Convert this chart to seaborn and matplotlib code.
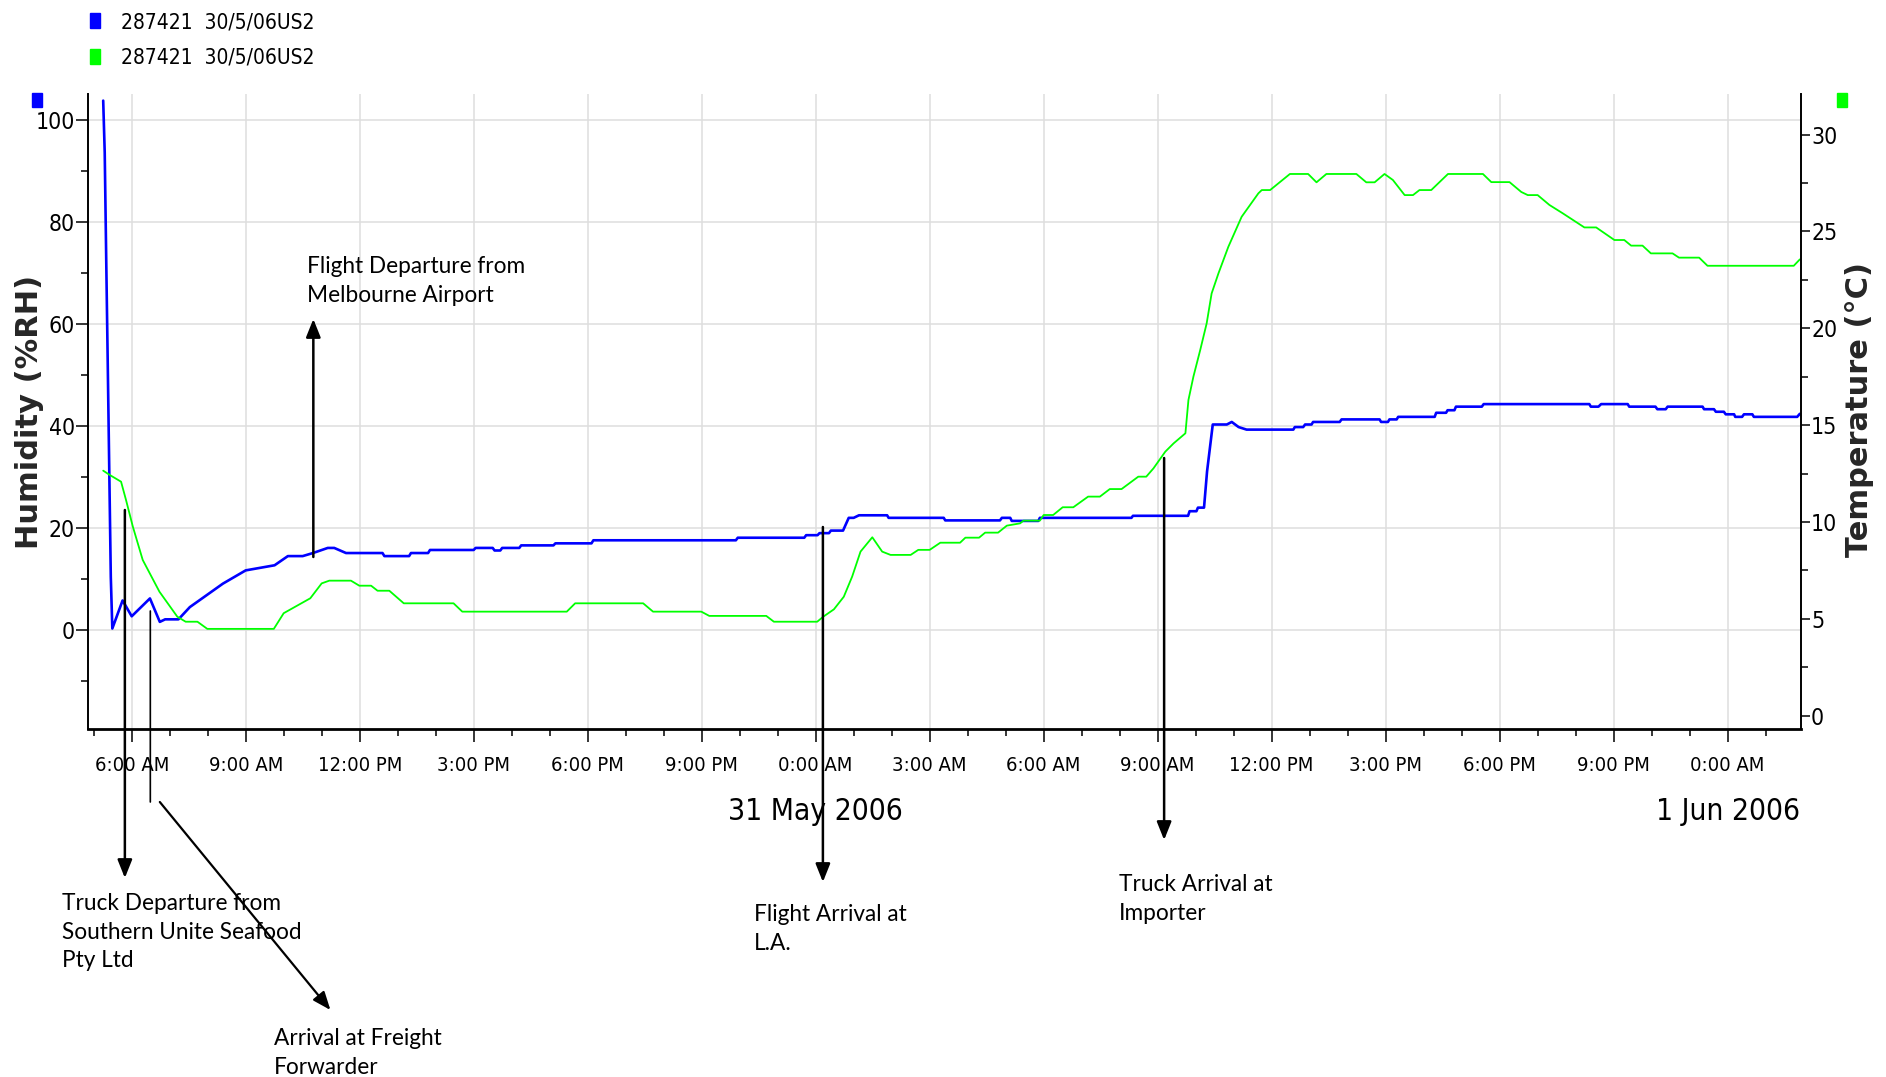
import pandas as pd
import matplotlib
matplotlib.use('Agg')
import matplotlib.pyplot as plt
import matplotlib.dates as mdates
import matplotlib.patches as mpatches
import matplotlib.transforms as mtransforms
from matplotlib import font_manager
from matplotlib.ticker import FuncFormatter, MultipleLocator
import seaborn as sns

# logger readings, time given as hours after 30 May 2006 00:00
hum_hours = [5.25, 5.29, 5.33, 5.37, 5.41, 5.45, 5.49, 5.76, 6.00, 6.48, 6.74, 6.88, 7.23, 7.53, 8.40,
             9.00, 9.76, 10.11, 10.50, 10.77, 11.16, 11.33, 11.64, 12.60, 12.65, 13.30, 13.35, 13.80,
             13.85, 15.00, 15.05, 15.50, 15.55, 15.70, 15.75, 16.20, 16.25, 17.10, 17.15, 18.10, 18.15,
             21.90, 21.95, 23.70, 23.75, 24.05, 24.10, 24.35, 24.40, 24.72, 24.87, 25.00, 25.14, 25.88,
             25.92, 27.37, 27.41, 28.85, 28.90, 29.12, 29.16, 29.86, 29.90, 32.31, 32.35, 33.80, 33.84,
             34.02, 34.06, 34.22, 34.30, 34.45, 34.82, 34.95, 35.13, 35.34, 36.57, 36.61, 36.83, 36.88,
             37.05, 37.09, 37.79, 37.84, 38.84, 38.88, 39.06, 39.10, 39.29, 39.33, 40.29, 40.33, 40.59,
             40.63, 40.81, 40.85, 41.53, 41.58, 44.36, 44.40, 44.60, 44.67, 45.37, 45.41, 46.10, 46.15,
             46.37, 46.42, 47.34, 47.38, 47.64, 47.69, 47.90, 47.95, 48.17, 48.20, 48.38, 48.43, 48.65,
             48.69, 49.83, 49.90]
hum_values = [103.7, 93.5, 72.3, 51.9, 31.0, 10.3, 0.2, 5.7, 2.6, 6.1, 1.5, 2.0, 2.0, 4.4, 9.0,
              11.6, 12.6, 14.4, 14.4, 15.0, 16.0, 16.0, 15.0, 15.0, 14.4, 14.4, 15.0, 15.0,
              15.6, 15.6, 16.0, 16.0, 15.5, 15.5, 16.0, 16.0, 16.5, 16.5, 16.9, 16.9, 17.5,
              17.5, 18.0, 18.0, 18.5, 18.5, 18.9, 18.9, 19.4, 19.4, 21.9, 21.9, 22.4, 22.4,
              21.9, 21.9, 21.4, 21.4, 21.9, 21.9, 21.3, 21.3, 21.9, 21.9, 22.3, 22.3, 23.2,
              23.2, 23.9, 23.9, 31.0, 40.2, 40.2, 40.7, 39.7, 39.2, 39.2, 39.7, 39.7, 40.2,
              40.2, 40.7, 40.7, 41.2, 41.2, 40.7, 40.7, 41.2, 41.2, 41.7, 41.7, 42.5, 42.5,
              43.0, 43.0, 43.7, 43.7, 44.2, 44.2, 43.7, 43.7, 44.2, 44.2, 43.7, 43.7, 43.2,
              43.2, 43.7, 43.7, 43.2, 43.2, 42.7, 42.7, 42.2, 42.2, 41.7, 41.7, 42.2, 42.2,
              41.7, 41.7, 42.3]

temp_hours = [5.25, 5.42, 5.72, 5.85, 6.03, 6.29, 6.73, 7.20, 7.42, 7.73, 7.99, 9.74, 10.00, 10.70,
              11.00, 11.20, 11.77, 11.99, 12.30, 12.47, 12.78, 13.16, 14.47, 14.70, 17.45, 17.67,
              19.46, 19.72, 20.99, 21.20, 22.70, 22.90, 24.04, 24.20, 24.48, 24.74, 24.96, 25.18,
              25.49, 25.75, 25.97, 26.50, 26.70, 27.00, 27.28, 27.80, 27.94, 28.30, 28.46, 28.80,
              29.03, 29.38, 29.47, 29.90, 30.00, 30.25, 30.50, 30.78, 31.17, 31.48, 31.74, 32.05,
              32.49, 32.70, 32.89, 33.20, 33.42, 33.73, 33.81, 33.94, 34.12, 34.29, 34.42, 34.60,
              34.86, 35.21, 35.65, 35.74, 35.96, 36.48, 36.96, 37.18, 37.44, 38.23, 38.49, 38.71,
              38.97, 39.19, 39.50, 39.72, 39.89, 40.20, 40.64, 41.56, 41.78, 42.26, 42.57, 42.74,
              43.00, 43.31, 43.66, 44.23, 44.54, 45.02, 45.28, 45.46, 45.76, 45.98, 46.55, 46.72,
              47.25, 47.47, 49.74, 49.90]
temp_values = [12.65, 12.43, 12.08, 11.14, 9.76, 8.04, 6.40, 5.11, 4.85, 4.85, 4.48, 4.48, 5.29, 6.06,
               6.83, 6.97, 6.97, 6.71, 6.71, 6.45, 6.45, 5.80, 5.80, 5.37, 5.37, 5.80,
               5.80, 5.37, 5.37, 5.15, 5.15, 4.85, 4.85, 5.11, 5.49, 6.14, 7.18, 8.47,
               9.21, 8.47, 8.30, 8.30, 8.56, 8.56, 8.93, 8.93, 9.19, 9.19, 9.45, 9.45,
               9.81, 9.93, 10.07, 10.07, 10.36, 10.36, 10.76, 10.76, 11.31, 11.31, 11.70, 11.70,
               12.34, 12.34, 12.77, 13.63, 14.06, 14.58, 16.30, 17.50, 18.88, 20.26, 21.80, 22.84,
               24.21, 25.76, 26.97, 27.14, 27.14, 27.97, 27.97, 27.54, 27.97, 27.97, 27.54, 27.54,
               27.97, 27.66, 26.88, 26.88, 27.14, 27.14, 27.97, 27.97, 27.55, 27.55, 27.04, 26.88,
               26.88, 26.37, 25.94, 25.21, 25.21, 24.56, 24.56, 24.27, 24.27, 23.87, 23.87, 23.65,
               23.65, 23.23, 23.23, 23.56]

series_label = '287421  30/5/06US2'
date_labels = ['31 May 2006', '1 Jun 2006']
date_label_hours = [24, 48]

t0 = pd.Timestamp('2006-05-30')
df_h = pd.DataFrame({'time': t0 + pd.to_timedelta(hum_hours, unit='h'), 'humidity': hum_values})
df_t = pd.DataFrame({'time': t0 + pd.to_timedelta(temp_hours, unit='h'), 'temperature': temp_values})

sns.set_theme(style='ticks', rc={'axes.edgecolor': 'black', 'xtick.color': 'black',
                                 'ytick.color': 'black', 'text.color': 'black'})

# the logger software used a tall, narrow font: look for a condensed face
narrow = None
for f in font_manager.fontManager.ttflist:
    condensed = 'condensed' in str(f.stretch) or 'Narrow' in f.name or 'Condensed' in f.name
    if condensed and f.style == 'normal' and f.weight in (400, 'normal', 'regular'):
        rank = 0 if 'Liberation' in f.name else 1 if 'DejaVu' in f.name else 2
        if narrow is None or rank < narrow[0]:
            narrow = (rank, f.name, f.stretch)

if narrow:
    plt.rcParams['font.family'] = [narrow[1], 'DejaVu Sans']
    plt.rcParams['font.stretch'] = narrow[2]
    ysize, xsize, dsize, lsize = 16.5, 14.5, 21.5, 15
else:
    plt.rcParams['font.family'] = ['Liberation Sans', 'DejaVu Sans']
    ysize, xsize, dsize, lsize = 14.5, 13, 19, 13.5

W, H = 1886, 1077
fig = plt.figure(figsize=(W / 100, H / 100), dpi=100)
ax = fig.add_axes([88 / W, 1 - 729 / H, 1712.6 / W, 635 / H])

blue = '#0000ff'
green = '#00ff00'
sns.lineplot(data=df_h, x='time', y='humidity', ax=ax, color=blue, linewidth=1.9,
             estimator=None, sort=False, legend=False)
ax2 = ax.twinx()
sns.lineplot(data=df_t, x='time', y='temperature', ax=ax2, color=green, linewidth=1.3,
             estimator=None, sort=False, legend=False)

def hours(h):
    return mdates.date2num(t0 + pd.Timedelta(hours=h))

ax.set_xlim(hours(4.85), hours(49.92))
ax.set_ylim(-19.5, 105)
ax2.set_ylim(-0.69, 32.1)

def fmt_time(x, pos):
    h = mdates.num2date(x).hour
    if h < 12:
        return f'{h}:00 AM'
    if h == 12:
        return '12:00 PM'
    return f'{h - 12}:00 PM'

ax.xaxis.set_major_locator(mdates.HourLocator(byhour=range(0, 24, 3)))
ax.xaxis.set_minor_locator(mdates.HourLocator())
ax.xaxis.set_major_formatter(FuncFormatter(fmt_time))
ax.yaxis.set_major_locator(MultipleLocator(20))
ax.yaxis.set_minor_locator(MultipleLocator(10))
ax2.yaxis.set_major_locator(MultipleLocator(5))
ax2.yaxis.set_minor_locator(MultipleLocator(2.5))

ax.grid(which='major', color='#dedede', linewidth=1.1)
ax.set_axisbelow(True)

for s in ['top', 'right']:
    ax.spines[s].set_visible(False)
for s in ['top', 'left', 'bottom']:
    ax2.spines[s].set_visible(False)
ax.spines['bottom'].set_linewidth(2.0)
ax.spines['left'].set_linewidth(1.4)
ax2.spines['right'].set_linewidth(1.4)

ax.tick_params(axis='x', which='major', length=9.5, width=1.1, pad=10, labelsize=xsize)
ax.tick_params(axis='x', which='minor', length=5, width=1.1)
ax.tick_params(axis='y', which='major', length=8.5, width=1.1, pad=1, labelsize=ysize)
ax.tick_params(axis='y', which='minor', length=5, width=1.1)
ax2.tick_params(axis='y', which='major', length=6.5, width=1.1, pad=1, labelsize=ysize)
ax2.tick_params(axis='y', which='minor', length=5, width=1.1)

ax.set_xlabel('')
ax.set_ylabel('Humidity (%RH)', fontsize=22, fontweight='bold', fontfamily='DejaVu Sans',
              fontstretch='normal')
ax.yaxis.set_label_coords(-0.0255, 0.5)
ax2.set_ylabel('Temperature (°C)', fontsize=22, fontweight='bold', fontfamily='DejaVu Sans',
               fontstretch='normal')
ax2.yaxis.set_label_coords(1.026, 0.503)

trans = mtransforms.blended_transform_factory(ax.transData, fig.transFigure)
for lbl, h in zip(date_labels, date_label_hours):
    ax.text(hours(h), 1 - 812 / H, lbl, ha='center', va='center', fontsize=dsize, transform=trans)

# legend and the small colour markers above each axis
handles = [mpatches.Patch(color=blue), mpatches.Patch(color=green)]
fig.legend(handles, [series_label, series_label], loc='upper left',
           bbox_to_anchor=(90 / W, 1 - 12 / H), frameon=False, fontsize=lsize,
           handlelength=0.5, handleheight=0.7, handletextpad=1.0, labelspacing=0.75,
           borderpad=0, borderaxespad=0)
fig.add_artist(mpatches.Rectangle((31.7 / W, 1 - 107.3 / H), 10 / W, 14.6 / H,
                                  transform=fig.transFigure, color=blue))
fig.add_artist(mpatches.Rectangle((1837.3 / W, 1 - 107.3 / H), 10 / W, 14.6 / H,
                                  transform=fig.transFigure, color=green))

# event notes
def arrow(h0, y0, h1, y1, head=True, lw=1.8):
    style = '-|>,head_length=0.55,head_width=0.22' if head else '-'
    ax2.annotate('', xy=(hours(h1), 1 - y1 / H), xytext=(hours(h0), 1 - y0 / H),
                 xycoords=trans, textcoords=trans, annotation_clip=False,
                 arrowprops=dict(arrowstyle=style, color='black', lw=lw,
                                 shrinkA=0, shrinkB=0, mutation_scale=20))

def note(x, y, txt):
    fig.text(x / W, 1 - y / H, txt, ha='left', va='top', fontsize=16.3,
             fontfamily='Lato', fontstretch='normal', linespacing=1.45)

arrow(10.78, 557, 10.78, 319)
note(306.7, 256, 'Flight Departure from\nMelbourne Airport')
arrow(5.82, 510, 5.82, 878)
note(62.5, 893, 'Truck Departure from\nSouthern Unite Seafood\nPty Ltd')
arrow(6.49, 611, 6.49, 802, head=False, lw=1.2)
arrow(6.74, 802, 11.23, 1010, lw=1.6)
note(274, 1028, 'Arrival at Freight\nForwarder')
arrow(24.19, 527, 24.19, 882)
note(754, 904, 'Flight Arrival at\nL.A.')
arrow(33.17, 458, 33.17, 840)
note(1118.6, 874, 'Truck Arrival at\nImporter')

fig.savefig('out.png', dpi=100)
